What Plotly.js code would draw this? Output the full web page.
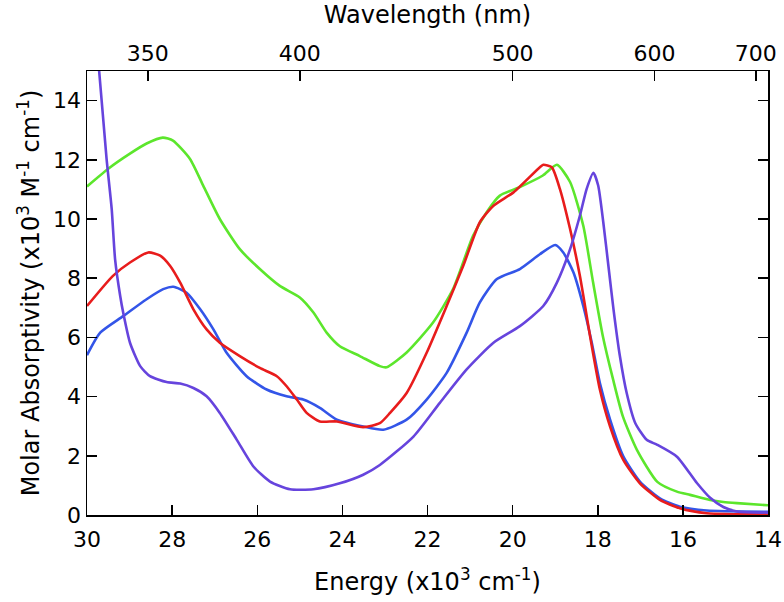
<!DOCTYPE html>
<html>
<head>
<meta charset="utf-8">
<script src="https://cdn.plot.ly/plotly-3.0.1.min.js"></script>
<style>
  html, body { margin: 0; padding: 0; background: #fff; }
  #plot { width: 784px; height: 602px; }
</style>
</head>
<body>
<div id="plot"></div>
<script>
// energy in 10^3 cm^-1, absorptivity in 10^3 M^-1 cm^-1
var greenE = [30, 29.5, 29.0, 28.6, 28.22, 27.98, 27.58, 27.27, 26.88, 26.41, 25.94, 25.47, 25.0, 24.68, 24.37, 24.06, 23.59, 23.12, 22.96, 22.49, 21.87, 21.4, 20.93, 20.61, 20.3, 19.83, 19.29, 18.96, 18.65, 18.34, 18.11, 17.88, 17.64, 17.41, 17.08, 16.6, 16.14, 15.83, 15.36, 15.05, 14.73, 14];
var greenA = [11.1, 11.7, 12.2, 12.55, 12.75, 12.65, 12.03, 11.13, 10.0, 8.98, 8.31, 7.74, 7.35, 6.84, 6.16, 5.7, 5.37, 5.03, 4.99, 5.49, 6.5, 7.63, 9.43, 10.23, 10.79, 11.08, 11.47, 11.83, 11.25, 9.77, 7.86, 6.04, 4.58, 3.33, 2.2, 1.12, 0.79, 0.68, 0.51, 0.44, 0.4, 0.33];

var redE = [30, 29.39, 28.99, 28.56, 28.28, 28.05, 27.81, 27.5, 27.19, 26.88, 26.41, 25.94, 25.54, 25.31, 25.07, 24.84, 24.53, 24.13, 23.51, 23.12, 22.88, 22.49, 22.02, 21.55, 21.16, 20.77, 20.45, 19.98, 19.36, 19.28, 19.08, 18.89, 18.65, 18.42, 18.18, 17.95, 17.71, 17.4, 17.01, 16.54, 16.07, 15.44, 14];
var redA = [7.06, 8.08, 8.53, 8.87, 8.76, 8.42, 7.85, 6.95, 6.27, 5.82, 5.37, 4.97, 4.69, 4.35, 3.9, 3.45, 3.16, 3.16, 2.97, 3.1, 3.45, 4.12, 5.48, 7.06, 8.42, 9.89, 10.45, 10.9, 11.75, 11.83, 11.75, 11.02, 9.66, 8.08, 6.04, 4.24, 2.99, 1.86, 1.07, 0.51, 0.23, 0.06, 0.02];

var blueE = [30, 29.69, 29.15, 28.6, 28.21, 27.97, 27.66, 27.34, 27.03, 26.72, 26.25, 25.78, 25.31, 24.92, 24.53, 24.13, 23.51, 23.04, 22.49, 22.02, 21.55, 21.08, 20.77, 20.37, 19.83, 19.36, 19.0, 18.81, 18.57, 18.34, 18.14, 17.95, 17.71, 17.4, 17.01, 16.54, 16.07, 15.44, 14];
var blueA = [5.4, 6.16, 6.72, 7.29, 7.63, 7.71, 7.51, 6.95, 6.27, 5.48, 4.69, 4.24, 4.01, 3.9, 3.62, 3.22, 2.99, 2.88, 3.22, 3.9, 4.8, 6.16, 7.18, 7.97, 8.31, 8.81, 9.12, 8.87, 8.19, 7.06, 5.82, 4.46, 3.22, 1.98, 1.13, 0.56, 0.28, 0.15, 0.11];

var violetE = [29.75, 29.54, 29.42, 29.34, 29.22, 29.15, 28.99, 28.75, 28.52, 28.13, 27.81, 27.5, 27.19, 26.88, 26.48, 26.09, 25.7, 25.23, 24.68, 24.06, 23.51, 23.12, 22.33, 21.71, 21.08, 20.45, 19.83, 19.28, 18.96, 18.65, 18.42, 18.26, 18.1, 17.99, 17.87, 17.75, 17.63, 17.48, 17.32, 17.12, 16.85, 16.6, 16.14, 15.67, 15.36, 15.05, 14.73, 14];
var violetA = [15.6, 12.03, 10.34, 8.64, 7.4, 6.84, 5.82, 5.03, 4.69, 4.49, 4.44, 4.29, 4.01, 3.45, 2.54, 1.64, 1.13, 0.87, 0.87, 1.07, 1.36, 1.69, 2.65, 3.79, 4.92, 5.82, 6.38, 7.06, 7.85, 8.98, 10.11, 11.02, 11.56, 11.13, 9.89, 8.42, 6.95, 5.37, 4.12, 3.11, 2.54, 2.37, 1.97, 1.08, 0.58, 0.27, 0.12, 0.08];

// top axis: wavelength ticks placed at 1e4/nm (10^3 cm^-1)
var waveTicks = [350, 400, 500, 600, 700];

var tickFont = {family: 'DejaVu Sans', size: 22, color: '#000'};
var titleFont = {family: 'DejaVu Sans', size: 24, color: '#000'};

function curve(x, y, color) {
  return {
    x: x,
    y: y,
    mode: 'lines',
    type: 'scatter',
    line: {color: color, width: 2.6, shape: 'spline', smoothing: 0.6},
    hoverinfo: 'skip',
    showlegend: false
  };
}

var data = [
  curve(greenE, greenA, '#5ce62c'),
  curve(blueE, blueA, '#3355e8'),
  curve(redE, redA, '#e81c1c'),
  curve(violetE, violetA, '#6644dd'),
  {
    x: [],
    y: [],
    xaxis: 'x2',
    type: 'scatter',
    mode: 'lines',
    showlegend: false
  }
];

var layout = {
  width: 784,
  height: 602,
  margin: {l: 87, r: 16, t: 71, b: 87},
  paper_bgcolor: '#fff',
  plot_bgcolor: '#fff',
  xaxis: {
    range: [30, 14],
    tickvals: [30, 28, 26, 24, 22, 20, 18, 16, 14],
    ticks: 'inside',
    ticklen: 10,
    tickwidth: 1.5,
    tickcolor: '#000',
    ticklabelstandoff: 4,
    showline: true,
    linecolor: '#000',
    linewidth: 1.5,
    showgrid: false,
    zeroline: false,
    tickfont: tickFont,
    title: {text: 'Energy (x10<sup>3</sup> cm<sup>-1</sup>)', font: titleFont, standoff: 22}
  },
  xaxis2: {
    overlaying: 'x',
    side: 'top',
    range: [30, 14],
    tickvals: waveTicks.map(function (w) { return 1e4 / w; }),
    ticktext: waveTicks.map(String),
    ticks: 'inside',
    ticklen: 10,
    tickwidth: 1.5,
    tickcolor: '#000',
    showline: true,
    linecolor: '#000',
    linewidth: 1.5,
    showgrid: false,
    zeroline: false,
    tickfont: tickFont,
    title: {text: 'Wavelength (nm)', font: titleFont, standoff: 10}
  },
  yaxis: {
    range: [0, 15],
    tickvals: [0, 2, 4, 6, 8, 10, 12, 14],
    ticks: 'inside',
    ticklen: 10,
    tickwidth: 1.5,
    tickcolor: '#000',
    showline: true,
    mirror: 'ticks',
    linecolor: '#000',
    linewidth: 1.5,
    showgrid: false,
    zeroline: false,
    tickfont: tickFont,
    title: {text: 'Molar Absorptivity (x10<sup>3</sup> M<sup>-1</sup> cm<sup>-1</sup>)', font: titleFont, standoff: 6}
  }
};

Plotly.newPlot('plot', data, layout, {displayModeBar: false, staticPlot: true});
</script>
</body>
</html>
